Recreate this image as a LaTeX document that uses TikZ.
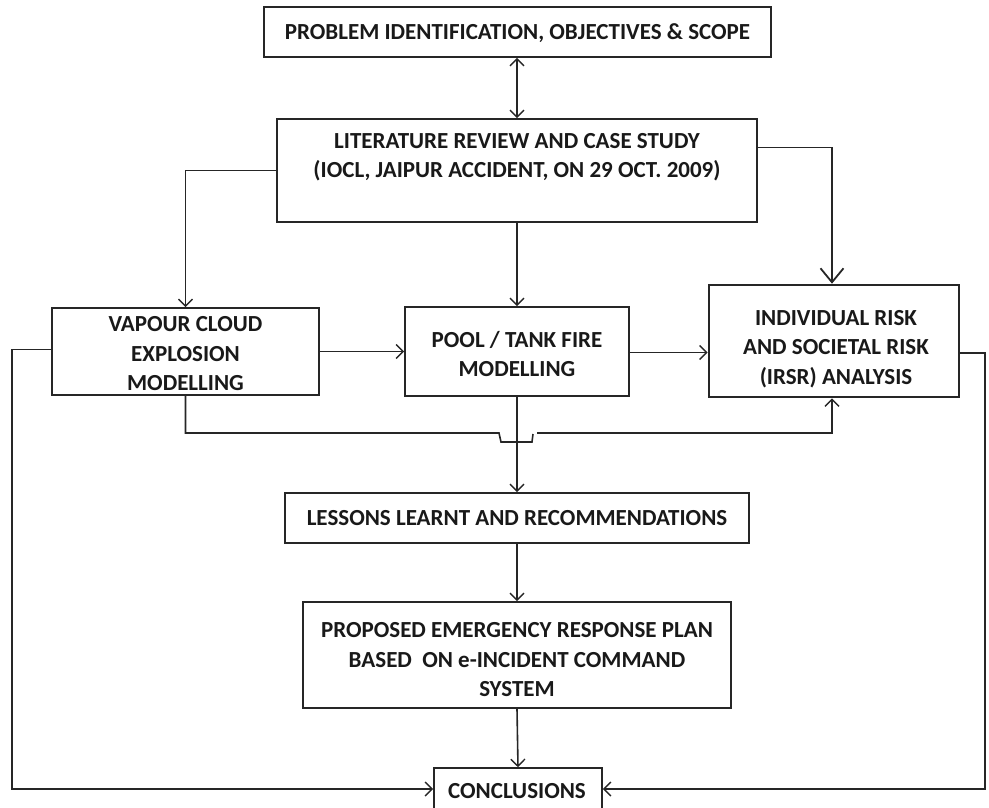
\documentclass[tikz,border=0pt]{standalone}
\usepackage{fontspec}
\setmainfont{Carlito}
\usetikzlibrary{arrows.meta,calc}
\begin{document}
\begin{tikzpicture}[x=1pt,y=-1pt,
  txt/.style={align=center, inner sep=0pt, text=black!90,
    font=\fontsize{23}{29.5}\selectfont\bfseries},
  box/.style={draw=black!85, line width=1.6pt, fill=white, inner sep=0pt},
  link/.style={draw=black!85, line width=1.6pt, -{Straight Barb[length=7pt,width=14pt,line width=1.4pt]}},
  bigtip/.style={draw=black!85, line width=1.9pt, -{Straight Barb[length=14pt,width=23pt,line width=1.8pt]}}]
\useasboundingbox (0,0) rectangle (989,807);

% process boxes (drawn as frames, text set on top)
\node[box, minimum width=507, minimum height=50] (prob) at (517.5,32) {};
\node[txt] (probtext) at ([yshift=-1pt]prob.center) {PROBLEM IDENTIFICATION, OBJECTIVES \& SCOPE};

\node[box, minimum width=480, minimum height=103] (lit) at (517,170.5) {};
\node[txt] (littext) at (517,157)
  {LITERATURE REVIEW AND CASE STUDY\\(IOCL, JAIPUR ACCIDENT, ON 29 OCT. 2009)};

\node[box, minimum width=267, minimum height=87] (vce) at (185.5,351.5) {};
\node[txt] (vcetext) at (185.5,354) {VAPOUR CLOUD\\EXPLOSION\\MODELLING};

\node[box, minimum width=224, minimum height=89] (pool) at (517,351.5) {};
\node[txt] (pooltext) at (517,354) {POOL / TANK FIRE\\MODELLING};

\node[box, line width=2.6pt, minimum width=250, minimum height=112] (irsr) at (834,341) {};
\node[txt] (irsrtext) at (836,349) {INDIVIDUAL RISK\\AND SOCIETAL RISK\\(IRSR) ANALYSIS};

\node[box, minimum width=464, minimum height=50] (less) at (517,518) {};
\node[txt] (lesstext) at (517,518) {LESSONS LEARNT AND RECOMMENDATIONS};

\node[box, minimum width=428, minimum height=106] (erp) at (517,655) {};
\node[txt] (erptext) at (517,660)
  {PROPOSED EMERGENCY RESPONSE PLAN\\BASED\ \ ON e-INCIDENT COMMAND\\SYSTEM};

\node[box, minimum width=168, minimum height=46] (concl) at (518,791) {};
\node[txt] (concltext) at (517,791) {CONCLUSIONS};

% routing points
\coordinate (lx) at (12,0);
\coordinate (rx) at (985,0);
\coordinate (hopL) at (499,433);
\coordinate (hopR) at (537,433);

% connectors
\draw[draw=black!85, line width=1.6pt, {Straight Barb[length=7pt,width=14pt,line width=1.4pt]}-{Straight Barb[length=7pt,width=14pt,line width=1.4pt]}]
  (prob.south -| lit.north) -- (lit.north);
\draw[link] (lit.west) -| (vce.north);
\draw[link] (lit.south -| pool.north) -- (pool.north);
\draw[bigtip] ([yshift=23pt]lit.east) -| ([xshift=-2pt]irsr.north);
\draw[link] (vce.east) -- (pool.west);
\draw[link] ([yshift=-1pt]pool.east) -- ([yshift=-1pt]pool.east -| irsr.west);
\draw[draw=black!85, line width=1.6pt] (vce.south) |- (hopL)
  -- ++(2,9) -- ++(31,0) -- ++(1,-8);
\draw[link] (hopR) -| ([xshift=-2pt]irsr.south);
\draw[link] (pool.south) -- (less.north);
\draw[link] (less.south) -- (erp.north);
\draw[link] (erp.south) -- (concl.north);
\draw[link] ([yshift=2pt]vce.west) -- ([yshift=2pt]vce.west -| lx)
  |- ([yshift=2pt]concl.west);
\draw[link] ([yshift=-12pt]irsr.east) -- ([yshift=-12pt]irsr.east -| rx)
  |- ([yshift=2pt]concl.east);
\end{tikzpicture}
\end{document}
